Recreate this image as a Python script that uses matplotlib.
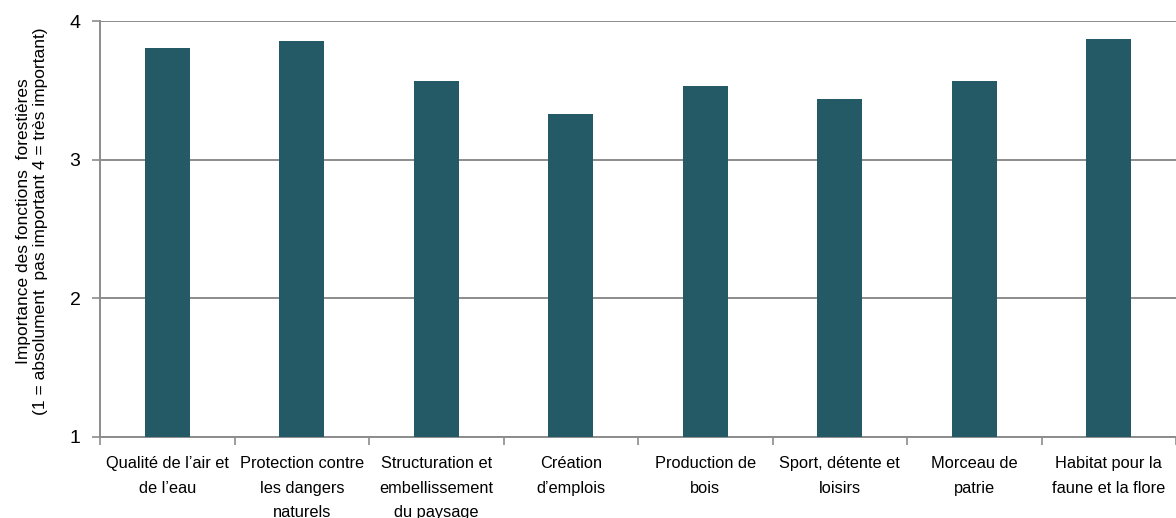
import numpy as np
import matplotlib.pyplot as plt

# data
categories = [
    "Qualité de l’air et\nde l’eau",
    "Protection contre\nles dangers\nnaturels",
    "Structuration et\nembellissement\ndu paysage",
    "Création\nd’emplois",
    "Production de\nbois",
    "Sport, détente et\nloisirs",
    "Morceau de\npatrie",
    "Habitat pour la\nfaune et la flore",
]
values = [3.81, 3.86, 3.57, 3.33, 3.53, 3.44, 3.57, 3.87]
y_ticks = [1, 2, 3, 4]
y_label = "Importance des fonctions  forestières\n(1 = absolument  pas important 4 = très important)"

bar_color = "#235a66"
grid_color = "#8c8c8c"

plt.rcParams["font.family"] = ["Liberation Sans", "DejaVu Sans"]

fig = plt.figure(figsize=(11.76, 5.18), dpi=100)
ax = fig.add_axes([100 / 1176, 1 - 436.7 / 518, 1076 / 1176, 415.4 / 518])

x = np.arange(len(categories))
ax.bar(x, np.array(values) - 1, bottom=1, width=0.335, color=bar_color, zorder=3)

ax.set_xlim(-0.5, len(categories) - 0.5)
ax.set_ylim(1, 4)
ax.set_yticks(y_ticks)
ax.set_yticklabels([str(v) for v in y_ticks], fontsize=14)
ax.yaxis.grid(True, color=grid_color, linewidth=1.4, zorder=0)

ax.set_xticks(x)
ax.set_xticklabels(categories, fontsize=11.8, linespacing=1.8)
ax.set_xticks(np.arange(len(categories) + 1) - 0.5, minor=True)
ax.tick_params(axis="x", which="major", length=0, pad=14)
ax.tick_params(axis="x", which="minor", length=6, width=1.2, color=grid_color, direction="out")
ax.tick_params(axis="y", length=6, width=1.2, color=grid_color, direction="out", pad=8)

for side in ["top", "right"]:
    ax.spines[side].set_visible(False)
for side in ["left", "bottom"]:
    ax.spines[side].set_color(grid_color)
    ax.spines[side].set_linewidth(1.4)

ax.set_ylabel(y_label, fontsize=12.5, linespacing=1.15)
ax.yaxis.set_label_coords(-52 / 1076, 0.518)

fig.savefig("out.png", dpi=100)
